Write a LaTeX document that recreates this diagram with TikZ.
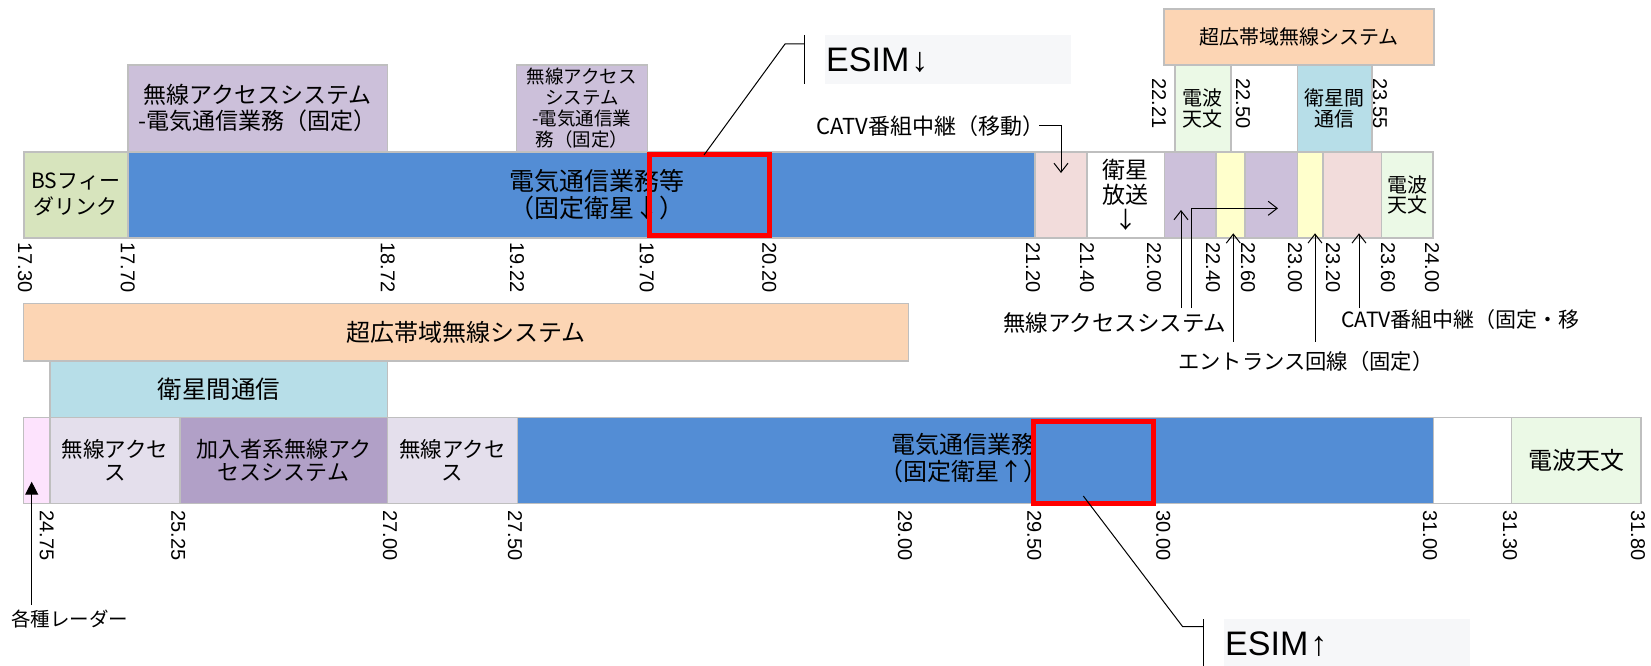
\documentclass[tikz,border=0pt]{standalone}
\usepackage{fontspec}
\setmainfont{Noto Sans CJK JP}
\newfontfamily\lsans{Liberation Sans}
\usetikzlibrary{arrows.meta}
\definecolor{cBorder}{HTML}{BFBFBF}
\definecolor{cBS}{HTML}{D7E4BD}
\definecolor{cBlue}{HTML}{538DD5}
\definecolor{cPurple}{HTML}{CCC0DA}
\definecolor{cPink}{HTML}{F2DCDB}
\definecolor{cYellow}{HTML}{FFFFCC}
\definecolor{cGreen}{HTML}{EBF9E6}
\definecolor{cOrange}{HTML}{FCD5B4}
\definecolor{cSky}{HTML}{B7DEE8}
\definecolor{cLav}{HTML}{E4DFEC}
\definecolor{cDark}{HTML}{B1A0C7}
\definecolor{cMag}{HTML}{FDE3FD}
\definecolor{cEsim}{HTML}{F6F7F9}
\definecolor{cRed}{HTML}{FF0000}
\newcommand\jpf[2]{\fontsize{#1}{#2}\selectfont}
\newcommand\cellat[8]{%
  \pgfmathsetmacro\cw{#4-#2}\pgfmathsetmacro\ch{#5-#3}%
  \node[cell, fill=#6, font=#7, minimum width=\cw pt, minimum height=\ch pt, anchor=north west] (#1) at (#2,#3) {#8};}
\newcommand\tk[4]{\node[tick] (#1) at (#2,#3) {#4};}
\begin{document}
\begin{tikzpicture}[x=1pt,y=-1pt,
  cell/.style={draw=cBorder,line width=1.5pt,inner sep=0pt,align=center,text=black},
  tick/.style={font=\lsans\fontsize{20}{20}\selectfont, rotate=-90, anchor=west, inner sep=0pt},
  lbl/.style={inner sep=0pt, anchor=west, text=black},
  arr/.style={line width=1pt, -{Straight Barb[length=9pt,width=14pt]}},
  thin/.style={line width=1pt},
  esim/.style={lbl, anchor=base west, font=\lsans\fontsize{34}{34}\selectfont}]
\useasboundingbox (0,0) rectangle (1651,666);

% ---------- top row, upper layer ----------
\cellat{uwbt}{1163.3}{8.3}{1433}{64.3}{cOrange}{\jpf{20}{24}}{超広帯域無線システム}
\cellat{wa1}{127}{64.3}{386.7}{151}{cPurple}{\jpf{23}{26}}{無線アクセスシステム\\-電気通信業務（固定）}
\cellat{wa2}{515.7}{64.3}{646.7}{151}{cPurple}{\jpf{18.5}{21}}{無線アクセス\\システム\\-電気通信業\\務（固定）}
\cellat{rat}{1174}{64.3}{1230}{151}{cGreen}{\jpf{20}{20.5}}{電波\\天文}
\cellat{islt}{1296.7}{64.3}{1371}{151}{cSky}{\jpf{20}{21}}{衛星間\\通信}

% ---------- top row bar ----------
\cellat{bs}{23}{151}{127}{237}{cBS}{\jpf{21}{26}}{BSフィー\\ダリンク}
\cellat{fsd}{127}{151}{1034}{237}{cBlue}{}{}
\cellat{pk1}{1034}{151}{1086}{237}{cPink}{}{}
\cellat{bsat}{1086}{151}{1163.7}{237}{white}{\jpf{23}{25}}{衛星\\放送\\↓}
\cellat{pu1}{1163.7}{151}{1215}{237}{cPurple}{}{}
\cellat{ye1}{1215}{151}{1244.3}{237}{cYellow}{}{}
\cellat{pu2}{1244.3}{151}{1296.7}{237}{cPurple}{}{}
\cellat{ye2}{1296.7}{151}{1322.3}{237}{cYellow}{}{}
\cellat{pk2}{1322.3}{151}{1380.7}{237}{cPink}{}{}
\cellat{rab}{1380.7}{151}{1432.3}{237}{cGreen}{\jpf{20}{20.5}}{電波\\天文}
\node[font=\jpf{25}{27}, align=center, inner sep=0pt] (fsdtxt) at (597,194.5) {電気通信業務等\\（固定衛星↓）};
\node[draw=cRed, line width=5pt, minimum width=120pt, minimum height=81pt, inner sep=0pt, anchor=north west] (redd) at (647,151.7) {};

% ---------- top tick labels ----------
\tk{t1}{25}{242}{17.30}
\tk{t2}{127.7}{242}{17.70}
\tk{t3}{387.7}{242}{18.72}
\tk{t4}{517}{242}{19.22}
\tk{t5}{646.7}{242}{19.70}
\tk{t6}{769.3}{242}{20.20}
\tk{t7}{1033}{242}{21.20}
\tk{t8}{1087}{242}{21.40}
\tk{t9}{1154}{242}{22.00}
\tk{t10}{1213}{242}{22.40}
\tk{t11}{1248}{242}{22.60}
\tk{t12}{1295}{242}{23.00}
\tk{t13}{1333}{242}{23.20}
\tk{t14}{1388}{242}{23.60}
\tk{t15}{1432}{242}{24.00}
\tk{u1}{1159}{78.5}{22.21}
\tk{u2}{1243}{78.5}{22.50}
\tk{u3}{1380}{78.5}{23.55}

% ---------- ESIM down callout ----------
\node[fill=cEsim, minimum width=246pt, minimum height=49.3pt, anchor=north west, inner sep=0pt] (esimdbox) at (825,35) {};
\node[esim] (esimd) at (826,72) {ESIM\hspace{2pt}↓};
\coordinate (ld1) at (704,155);
\coordinate (ld2) at (785,44);
\coordinate (ld3) at (804,44);
\coordinate (bd1) at (804,35);
\coordinate (bd2) at (804,84);
\draw[thin] (ld1) -- (ld2) -- (ld3);
\draw[thin] (bd1) -- (bd2);

% ---------- top annotations ----------
\node[lbl, font=\jpf{22}{24}] (catvm) at (816,126) {CATV番組中継（移動）};
\coordinate (cm1) at (1039,126);
\coordinate (cm2) at (1061,126);
\coordinate (cm3) at (1061,173);
\draw[arr] (cm1) -- (cm2) -- (cm3);

\node[lbl, font=\jpf{22.5}{24}] (wlas) at (1003,323.3) {無線アクセスシステム};
\node[lbl, font=\jpf{21.3}{24}] (entr) at (1178,361.7) {エントランス回線（固定）};
\node[lbl, font=\jpf{21}{24}] (catvf) at (1341,320) {CATV番組中継（固定・移};
\coordinate (w1a) at (1181,308);   \coordinate (w1b) at (1181,210);
\coordinate (w2a) at (1191.7,308); \coordinate (w2b) at (1191.7,208.3); \coordinate (w2c) at (1278,208.3);
\coordinate (e1a) at (1233.3,341.7); \coordinate (e1b) at (1233.3,233.3);
\coordinate (e2a) at (1315,341.7);   \coordinate (e2b) at (1315,233.3);
\coordinate (c1a) at (1359,308);     \coordinate (c1b) at (1359,233.3);
\draw[arr] (w1a) -- (w1b);
\draw[arr] (w2a) -- (w2b) -- (w2c);
\draw[arr] (e1a) -- (e1b);
\draw[arr] (e2a) -- (e2b);
\draw[arr] (c1a) -- (c1b);

% ---------- bottom row ----------
\cellat{uwbb}{22.7}{302.7}{907.7}{360}{cOrange}{\jpf{24}{26}}{超広帯域無線システム}
\cellat{islb}{49.3}{360}{386.7}{416.7}{cSky}{\jpf{24.5}{26}}{衛星間通信}
\cellat{rad}{22.7}{416.7}{49.3}{502.5}{cMag}{}{}
\cellat{wb1}{49.3}{416.7}{179}{502.5}{cLav}{\jpf{21.5}{23}}{無線アクセ\\ス}
\cellat{sub}{179}{416.7}{386.7}{502.5}{cDark}{\jpf{22}{23}}{加入者系無線アク\\セスシステム}
\cellat{wb2}{386.7}{416.7}{516.7}{502.5}{cLav}{\jpf{21.5}{23}}{無線アクセ\\ス}
\cellat{fsu}{516.7}{416.7}{1432.7}{502.5}{cBlue}{}{}
\cellat{whb}{1432.7}{416.7}{1510.7}{502.5}{white}{}{}
\cellat{rabt}{1510.7}{416.7}{1640}{502.5}{cGreen}{\jpf{24}{26}}{電波天文}
\node[font=\jpf{24}{27}, align=center, inner sep=0pt] (fsutxt) at (963,458.5) {電気通信業務\\（固定衛星↑）};
\node[draw=cRed, fill=cBlue, line width=5pt, minimum width=120pt, minimum height=81.4pt, inner sep=0pt, anchor=north west] (redu) at (1030.7,419.3) {};

% ---------- bottom tick labels ----------
\tk{b1}{46.7}{510.5}{24.75}
\tk{b2}{178.3}{510.5}{25.25}
\tk{b3}{390}{510.5}{27.00}
\tk{b4}{515}{510.5}{27.50}
\tk{b5}{905}{510.5}{29.00}
\tk{b6}{1034.3}{510.5}{29.50}
\tk{b7}{1163.3}{510.5}{30.00}
\tk{b8}{1430}{510.5}{31.00}
\tk{b9}{1510}{510.5}{31.30}
\tk{b10}{1638}{510.5}{31.80}

% ---------- radar ----------
\node[lbl, font=\jpf{19.5}{22}] (radar) at (11,619) {各種レーダー};
\coordinate (r1) at (31.7,605);
\coordinate (r2) at (31.7,481.7);
\draw[line width=1.2pt, -{Triangle[length=13pt,width=13pt]}] (r1) -- (r2);

% ---------- ESIM up callout ----------
\node[fill=cEsim, minimum width=246pt, minimum height=48pt, anchor=north west, inner sep=0pt] (esimubox) at (1224,618.3) {};
\node[esim] (esimu) at (1225,655) {ESIM\hspace{2pt}↑};
\coordinate (lu1) at (1083.3,496);
\coordinate (lu2) at (1182.7,626.7);
\coordinate (lu3) at (1203.3,626.7);
\coordinate (bu1) at (1203.3,619);
\coordinate (bu2) at (1203.3,666);
\draw[thin] (lu1) -- (lu2) -- (lu3);
\draw[thin] (bu1) -- (bu2);
\end{tikzpicture}
\end{document}
